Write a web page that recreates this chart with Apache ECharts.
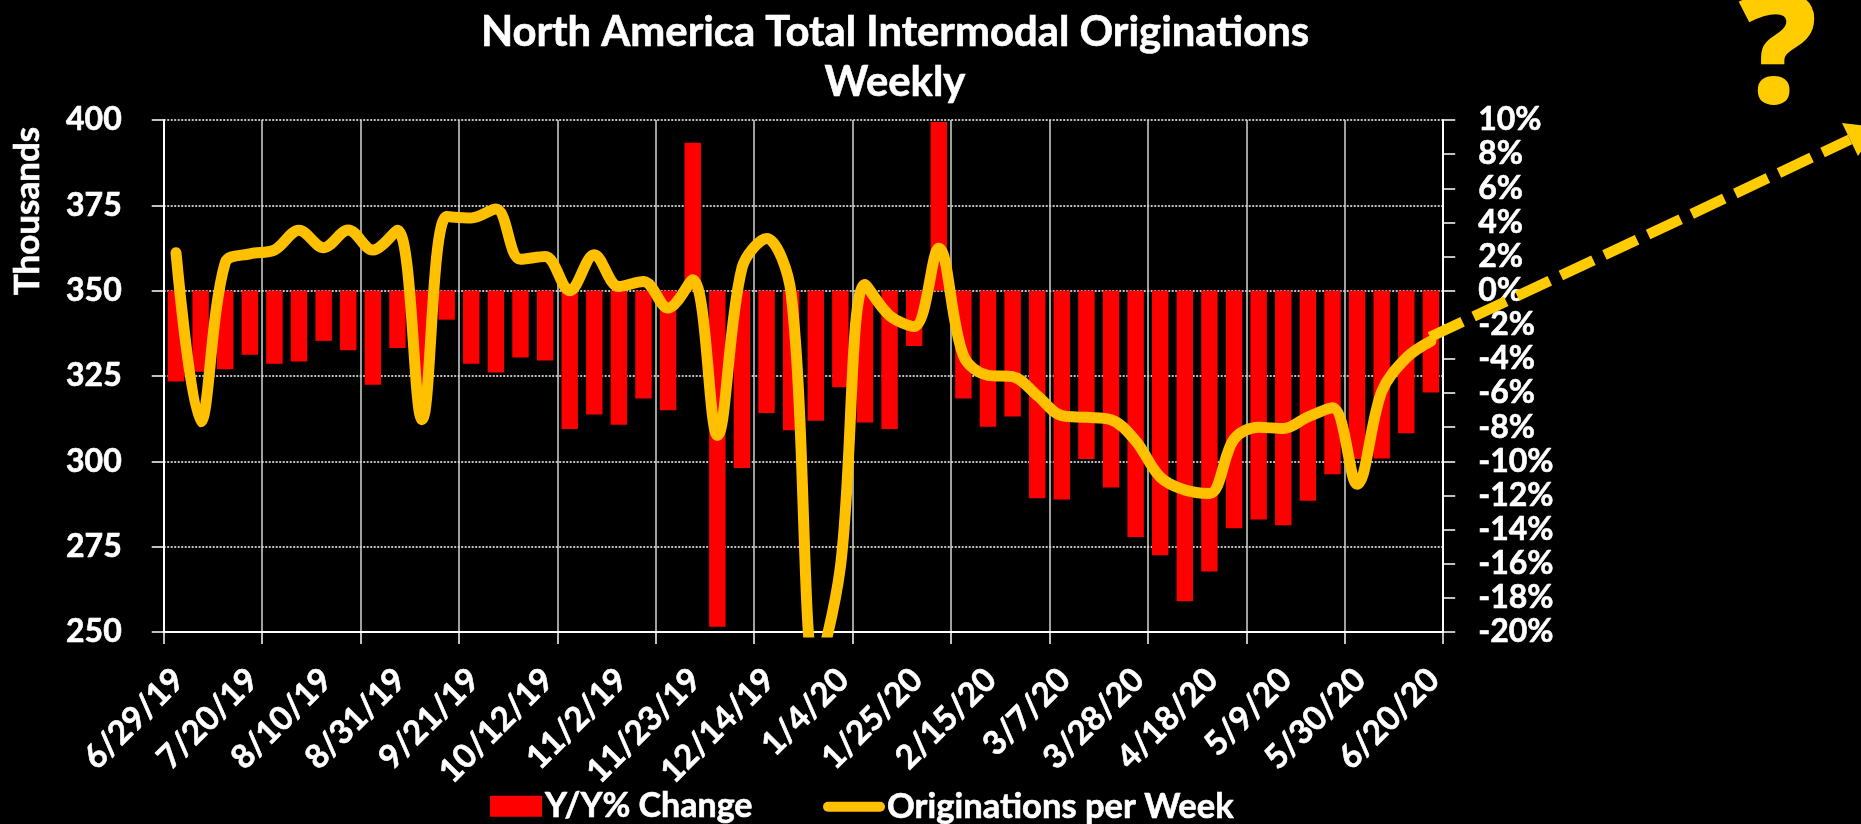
<!DOCTYPE html>
<html>
<head>
<meta charset="utf-8">
<style>html,body{margin:0;padding:0;background:#000}#c{width:1861px;height:824px}</style>
<script src="https://cdn.jsdelivr.net/npm/echarts@6/dist/echarts.min.js"></script>
</head>
<body>
<div id="c"></div>
<script>
const weeks = ['6/29/19','7/6/19','7/13/19','7/20/19','7/27/19','8/3/19','8/10/19','8/17/19','8/24/19','8/31/19','9/7/19','9/14/19','9/21/19','9/28/19','10/5/19','10/12/19','10/19/19','10/26/19','11/2/19','11/9/19','11/16/19','11/23/19','11/30/19','12/7/19','12/14/19','12/21/19','12/28/19','1/4/20','1/11/20','1/18/20','1/25/20','2/1/20','2/8/20','2/15/20','2/22/20','2/29/20','3/7/20','3/14/20','3/21/20','3/28/20','4/4/20','4/11/20','4/18/20','4/25/20','5/2/20','5/9/20','5/16/20','5/23/20','5/30/20','6/6/20','6/13/20','6/20/20'];
const yoyChange = [-5.32,-4.75,-4.6,-3.75,-4.28,-4.15,-2.94,-3.49,-5.51,-3.36,-7.2,-1.7,-4.28,-4.79,-3.92,-4.09,-8.11,-7.26,-7.86,-6.32,-7.0,8.67,-19.69,-10.39,-7.17,-8.18,-7.62,-5.66,-7.73,-8.11,-3.24,9.88,-6.32,-7.98,-7.37,-12.16,-12.24,-9.86,-11.54,-14.43,-15.5,-18.2,-16.46,-13.92,-13.41,-13.75,-12.31,-10.76,-9.87,-9.84,-8.36,-5.97];
const originations = [361.1,311.6,358.2,360.8,361.9,367.7,362.6,367.8,361.9,367.7,312.2,371.7,371.3,373.9,359.2,360,350,360.5,351.2,352.7,344.9,353.2,307.6,356.6,365.3,349.1,238,269,351.8,342.7,339.5,362.4,331,325.2,324.8,319.3,313.4,312.9,312.2,306,295.4,291.6,290.6,306.5,310,309.6,313,315.7,293.3,320.4,330.3,335.2];
const titleText = 'North America Total Intermodal Originations\nWeekly';
const FONT = 'Lato';
const HEAVY = {textBorderColor: '#fff', textBorderWidth: 0.6};

const chart = echarts.init(document.getElementById('c'));
chart.setOption({
  backgroundColor: '#000',
  animation: false,
  textStyle: {fontFamily: FONT, fontWeight: 'bold', color: '#fff'},
  title: {
    text: titleText, left: 890, top: 3, textAlign: 'center',
    textStyle: {color: '#fff', fontFamily: FONT, fontWeight: 'bold', fontSize: 41.8, lineHeight: 50, ...HEAVY}
  },
  grid: {left: 163.7, right: 417.8, top: 120, bottom: 192, containLabel: false},
  legend: [
    {data: [{name: 'Y/Y% Change', icon: 'rect'}], left: 490, top: 789, itemWidth: 52, itemHeight: 21, padding: 0,
     textStyle: {color: '#fff', fontFamily: FONT, fontWeight: 'bold', fontSize: 34, padding: [0, 0, 0, -2], ...HEAVY}},
    {data: [{name: 'Originations per Week', icon: 'path://M5 0H57A5 5 0 0 1 57 10H5A5 5 0 0 1 5 0Z'}], left: 823, top: 789, itemWidth: 62, itemHeight: 11, padding: 0,
     itemStyle: {color: '#FFC000'},
     textStyle: {color: '#fff', fontFamily: FONT, fontWeight: 'bold', fontSize: 34.5, padding: [0, 0, 0, -3], ...HEAVY}}
  ],
  xAxis: {
    type: 'category', data: weeks, position: 'bottom',
    axisLine: {onZero: false, lineStyle: {color: '#fff', width: 2}},
    axisTick: {show: true, interval: 3, length: 12, lineStyle: {color: '#fff', width: 1.5}},
    splitLine: {show: true, interval: 3, lineStyle: {color: '#d0d8cc', width: 1.5}},
    axisLabel: {interval: 2, rotate: 45, margin: 45, padding: [0, -4, 0, 0], color: '#fff', fontFamily: FONT, fontWeight: 'bold', fontSize: 33, ...HEAVY}
  },
  yAxis: [
    {type: 'value', min: 250, max: 400, interval: 25,
     axisLine: {show: true, lineStyle: {color: '#fff', width: 2}},
     axisTick: {show: true, length: 12, lineStyle: {color: '#fff', width: 1.5}},
     splitLine: {show: true, lineStyle: {color: '#fff', width: 1.5, type: [2, 1.5]}},
     axisLabel: {margin: 42, color: '#fff', fontFamily: FONT, fontWeight: 'bold', fontSize: 32, ...HEAVY}},
    {type: 'value', min: -20, max: 10, interval: 2, position: 'right',
     axisLine: {show: true, lineStyle: {color: '#fff', width: 2}},
     axisTick: {show: true, length: 12, lineStyle: {color: '#fff', width: 1.5}},
     splitLine: {show: false},
     axisLabel: {margin: 35, color: '#fff', fontFamily: FONT, fontWeight: 'bold', fontSize: 32, formatter: v => v + '%', ...HEAVY}}
  ],
  series: [
    {name: 'Y/Y% Change', type: 'bar', yAxisIndex: 1, data: yoyChange, barWidth: '66.7%', itemStyle: {color: '#FF0000'}},
    {name: 'Originations per Week', type: 'line', yAxisIndex: 0, data: originations, smooth: 0.35, showSymbol: false, symbol: 'none',
     lineStyle: {color: '#FFC000', width: 11, cap: 'round', join: 'round'}, itemStyle: {color: '#FFC000'}, z: 5}
  ],
  graphic: [
    {type: 'text', x: 28, y: 211, z: 10, rotation: Math.PI / 2, silent: true,
     style: {text: 'Thousands', fill: '#fff', font: 'bold 35px ' + FONT, align: 'center', verticalAlign: 'middle', stroke: '#fff', lineWidth: 0.6}},
    {type: 'line', z: 20, silent: true, shape: {x1: 1430, y1: 337, x2: 1850, y2: 139.5},
     style: {stroke: '#FFCC00', lineWidth: 10.5, lineDash: [36, 12.2], lineCap: 'butt'}},
    {type: 'polygon', z: 20, silent: true, shape: {points: [[1842, 123], [1858, 156], [1877, 127]]},
     style: {fill: '#FFCC00'}},
    {type: 'text', z: 20, silent: true, x: 1778, y: 59,
     style: {text: '?', fill: '#FFCC00', font: '800 155px "Open Sans"', align: 'center', verticalAlign: 'middle'}}
  ]
});
</script>
</body>
</html>
